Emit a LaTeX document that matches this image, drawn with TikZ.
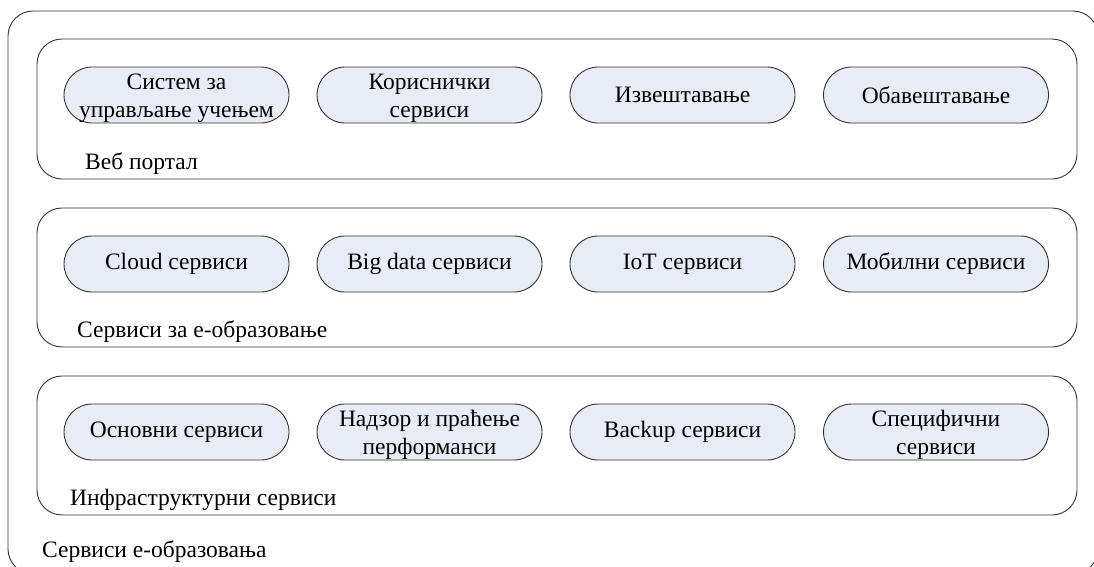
\documentclass[tikz,border=0pt]{standalone}
\usepackage{fontspec}
\setmainfont{Liberation Serif}
\definecolor{pillfill}{RGB}{231,236,246}
\definecolor{edge}{RGB}{50,50,50}
\newcommand\twolines[2]{\raisebox{-3pt}[\height][\depth]{\begin{tabular}{@{}c@{}}#1\\#2\end{tabular}}}
\begin{document}
\begin{tikzpicture}[x=1pt,y=-1pt,
  box/.style={draw=edge,line width=0.9pt,rounded corners=25pt},
  pill/.style={draw=edge,line width=0.9pt,fill=pillfill,rounded corners=28pt,
    minimum width=225pt,minimum height=56pt,inner sep=0pt,
    font=\fontsize{23.5}{27.5}\selectfont},
  lbl/.style={anchor=west,inner sep=0pt,font=\fontsize{23.5}{27}\selectfont}]
\useasboundingbox (0,0) rectangle (1094,566);
\begin{scope}
\clip (0,0) rectangle (1094,566);
\draw[box] (8,11) rectangle (1098,574);
\end{scope}
\draw[box] (37,39) rectangle (1077,179);
\draw[box] (37,208) rectangle (1077,347);
\draw[box] (37,376) rectangle (1077,515);
% row 1
\node[pill] (p11) at (176.5,95) {\twolines{Систем за}{управљање учењем}};
\node[pill] (p12) at (429.5,95) {\twolines{Кориснички}{сервиси}};
\node[pill] (p13) at (682.5,95) {Извештавање};
\node[pill] (p14) at (936,95) {Обавештавање};
% row 2
\node[pill] (p21) at (176.5,264) {Cloud сервиси};
\node[pill] (p22) at (429.5,264) {Big data сервиси};
\node[pill] (p23) at (682.5,264) {IoT сервиси};
\node[pill] (p24) at (936,264) {Мобилни сервиси};
% row 3
\node[pill] (p31) at (176.5,432) {Основни сервиси};
\node[pill] (p32) at (429.5,432) {\twolines{Надзор и праћење}{перформанси}};
\node[pill] (p33) at (682.5,432) {Backup сервиси};
\node[pill] (p34) at (936,432) {\twolines{Специфични}{сервиси}};
% labels
\node[lbl] (l1) at (85,164) {Веб портал};
\node[lbl] (l2) at (77,332) {Сервиси за е-образовање};
\node[lbl] (l3) at (70,500) {Инфраструктурни сервиси};
\node[lbl] (l4) at (42,552) {Сервиси е-образовања};
\end{tikzpicture}
\end{document}
